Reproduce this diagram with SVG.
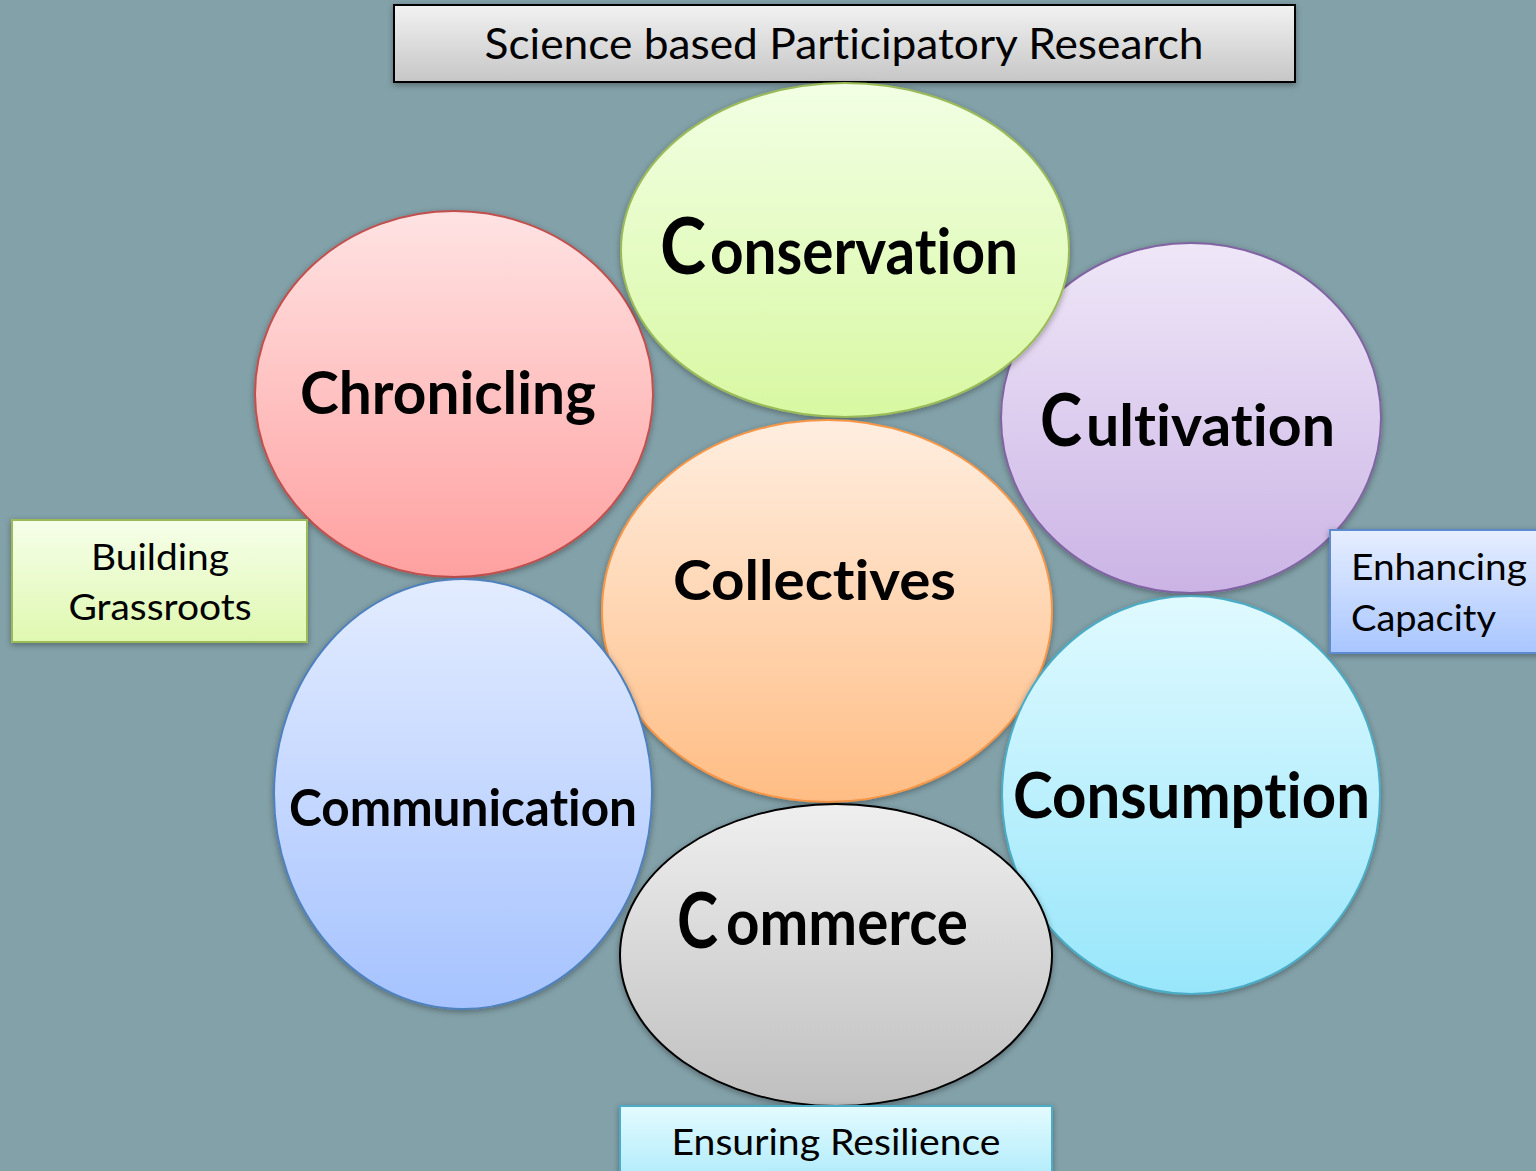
<svg xmlns="http://www.w3.org/2000/svg" width="1536" height="1171" viewBox="0 0 1536 1171">
<defs>
<style>
.lbl{font-family:Lato,"Liberation Sans",sans-serif;font-weight:bold;fill:#000;text-anchor:start;font-variant-ligatures:none}
.box{font-family:Lato,"Liberation Sans",sans-serif;fill:#000;font-variant-ligatures:none}
</style>
<filter id="sh" x="-10%" y="-10%" width="120%" height="125%"><feDropShadow dx="0" dy="2" stdDeviation="3" flood-color="#000" flood-opacity="0.35"/></filter>
<linearGradient id="gGreen" x1="0" y1="0" x2="0" y2="1"><stop offset="0" stop-color="#f2ffe4"/><stop offset="1" stop-color="#d8f8a2"/></linearGradient>
<linearGradient id="gRed" x1="0" y1="0" x2="0" y2="1"><stop offset="0" stop-color="#ffe3e3"/><stop offset="1" stop-color="#ffa0a0"/></linearGradient>
<linearGradient id="gPurple" x1="0" y1="0" x2="0" y2="1"><stop offset="0" stop-color="#efe7f8"/><stop offset="1" stop-color="#cbb4e5"/></linearGradient>
<linearGradient id="gOrange" x1="0" y1="0" x2="0" y2="1"><stop offset="0" stop-color="#ffeee0"/><stop offset="1" stop-color="#ffbd84"/></linearGradient>
<linearGradient id="gBlue" x1="0" y1="0" x2="0" y2="1"><stop offset="0" stop-color="#e3ecff"/><stop offset="1" stop-color="#a6c3ff"/></linearGradient>
<linearGradient id="gCyan" x1="0" y1="0" x2="0" y2="1"><stop offset="0" stop-color="#e0faff"/><stop offset="1" stop-color="#98e6fb"/></linearGradient>
<linearGradient id="gGray" x1="0" y1="0" x2="0" y2="1"><stop offset="0" stop-color="#efefef"/><stop offset="1" stop-color="#bfbfbf"/></linearGradient>
<linearGradient id="gTitle" x1="0" y1="0" x2="0" y2="1"><stop offset="0" stop-color="#f2f2f2"/><stop offset="1" stop-color="#c6c6c6"/></linearGradient>
<linearGradient id="gBoxGreen" x1="0" y1="0" x2="0" y2="1"><stop offset="0" stop-color="#f6ffea"/><stop offset="1" stop-color="#dff8b0"/></linearGradient>
<linearGradient id="gBoxBlue" x1="0" y1="0" x2="0" y2="1"><stop offset="0" stop-color="#e6eeff"/><stop offset="1" stop-color="#a9c6ff"/></linearGradient>
<linearGradient id="gBoxCyan" x1="0" y1="0" x2="0" y2="1"><stop offset="0" stop-color="#e4fbff"/><stop offset="1" stop-color="#b2ecfb"/></linearGradient>
</defs>
<rect x="0" y="0" width="1536" height="1171" fill="#83a1a9"/>

<g id="title">
<rect x="394" y="5" width="901" height="77" fill="url(#gTitle)" stroke="#000" stroke-width="2" filter="url(#sh)"/>
<text class="box" x="844" y="59" font-size="42" text-anchor="middle" textLength="719" lengthAdjust="spacingAndGlyphs">Science based Participatory Research</text>
</g>

<g id="chronicling">
<ellipse cx="454" cy="394" rx="199" ry="183" fill="url(#gRed)" stroke="#c0504d" stroke-width="2" filter="url(#sh)"/>
<text class="lbl" x="300" y="414" font-size="60" textLength="296" lengthAdjust="spacingAndGlyphs">Chronicling</text>
</g>

<g id="cultivation">
<ellipse cx="1191" cy="418" rx="190" ry="175" fill="url(#gPurple)" stroke="#8064a2" stroke-width="2" filter="url(#sh)"/>
<text class="lbl" x="1040" y="446" font-size="73" textLength="42" lengthAdjust="spacingAndGlyphs">C</text>
<text class="lbl" x="1086" y="446" font-size="58" textLength="249" lengthAdjust="spacingAndGlyphs">ultivation</text>
</g>

<g id="conservation">
<ellipse cx="845" cy="250" rx="224" ry="167" fill="url(#gGreen)" stroke="#9bbb59" stroke-width="2" filter="url(#sh)"/>
<text class="lbl" x="660" y="274" font-size="78" textLength="46" lengthAdjust="spacingAndGlyphs">C</text>
<text class="lbl" x="710" y="274" font-size="64" textLength="308" lengthAdjust="spacingAndGlyphs">onservation</text>
</g>

<g id="collectives">
<ellipse cx="827" cy="611" rx="225" ry="191" fill="url(#gOrange)" stroke="#f79646" stroke-width="2" filter="url(#sh)"/>
<text class="lbl" x="673" y="600" font-size="56" textLength="283" lengthAdjust="spacingAndGlyphs">Collectives</text>
</g>

<g id="communication">
<ellipse cx="463" cy="794" rx="189" ry="215" fill="url(#gBlue)" stroke="#4f81bd" stroke-width="2" filter="url(#sh)"/>
<text class="lbl" x="289" y="826" font-size="52" textLength="348" lengthAdjust="spacingAndGlyphs">Communication</text>
</g>

<g id="consumption">
<ellipse cx="1191" cy="795" rx="189" ry="199" fill="url(#gCyan)" stroke="#4bacc6" stroke-width="2" filter="url(#sh)"/>
<text class="lbl" x="1013" y="818" font-size="64" textLength="357" lengthAdjust="spacingAndGlyphs">Consumption</text>
</g>

<g id="commerce">
<ellipse cx="836" cy="955" rx="216" ry="151" fill="url(#gGray)" stroke="#000" stroke-width="2" filter="url(#sh)"/>
<text class="lbl" x="677" y="948" font-size="76" textLength="41" lengthAdjust="spacingAndGlyphs">C</text>
<text class="lbl" x="726" y="945" font-size="64" textLength="242" lengthAdjust="spacingAndGlyphs">ommerce</text>
</g>

<g id="building-grassroots">
<rect x="12" y="520" width="295" height="122" fill="url(#gBoxGreen)" stroke="#9bbb59" stroke-width="2" filter="url(#sh)"/>
<text class="box" x="160" y="570" font-size="36" text-anchor="middle" textLength="138" lengthAdjust="spacingAndGlyphs">Building</text>
<text class="box" x="160" y="620" font-size="36" text-anchor="middle" textLength="183" lengthAdjust="spacingAndGlyphs">Grassroots</text>
</g>

<g id="enhancing-capacity">
<rect x="1330" y="530" width="210" height="123" fill="url(#gBoxBlue)" stroke="#5b8bd0" stroke-width="2" filter="url(#sh)"/>
<text class="box" x="1351" y="580" font-size="36" textLength="176" lengthAdjust="spacingAndGlyphs">Enhancing</text>
<text class="box" x="1351" y="631" font-size="36" textLength="145" lengthAdjust="spacingAndGlyphs">Capacity</text>
</g>

<g id="ensuring-resilience">
<rect x="620" y="1106" width="432" height="70" fill="url(#gBoxCyan)" stroke="#4bacc6" stroke-width="2" filter="url(#sh)"/>
<text class="box" x="836" y="1155" font-size="36" text-anchor="middle" textLength="329" lengthAdjust="spacingAndGlyphs">Ensuring Resilience</text>
</g>

<g id="connectors"></g>
</svg>
